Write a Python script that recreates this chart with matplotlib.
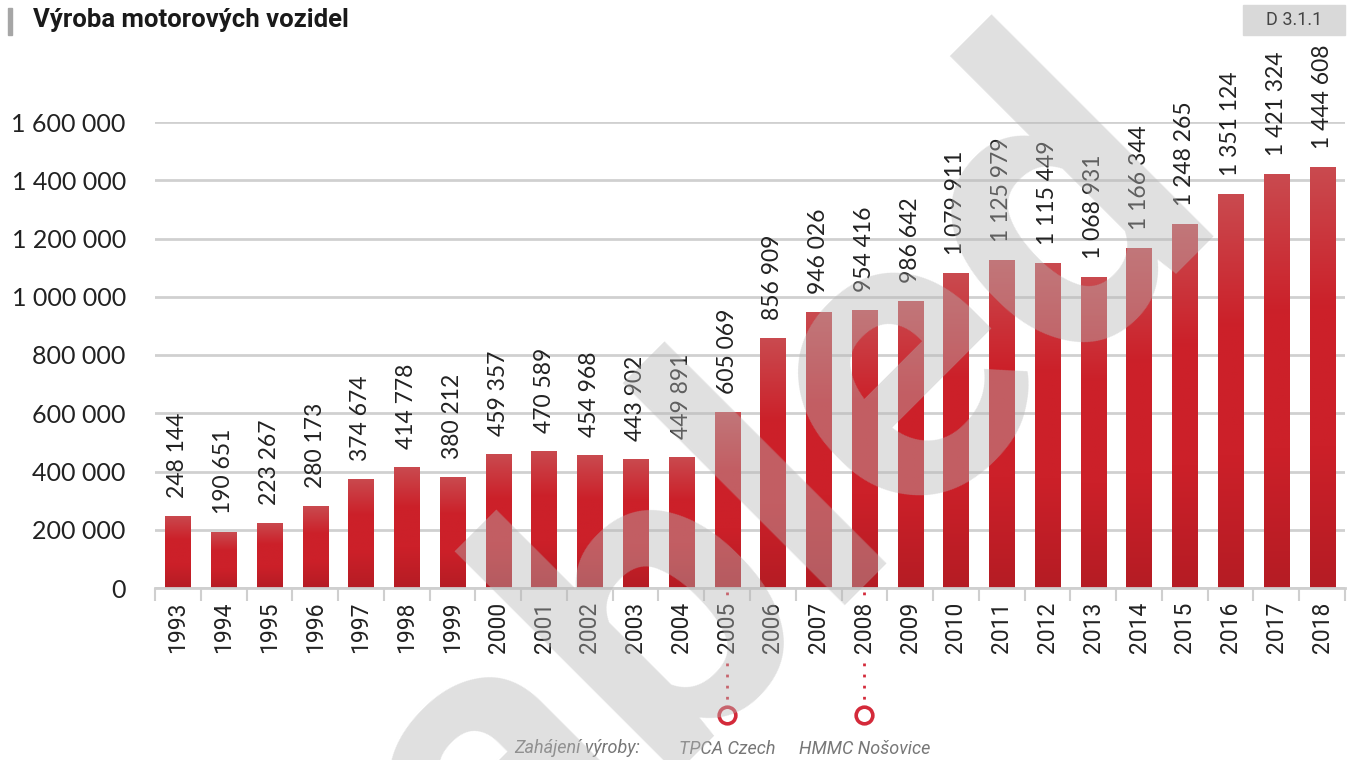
import numpy as np
import matplotlib
matplotlib.use('Agg')
import matplotlib.pyplot as plt
import matplotlib.transforms as mtransforms
from matplotlib.colors import LinearSegmentedColormap

# data
roky = [str(r) for r in range(1993, 2019)]
vyroba = [248144, 190651, 223267, 280173, 374674, 414778, 380212, 459357,
          470589, 454968, 443902, 449891, 605069, 856909, 946026, 954416,
          986642, 1079911, 1125979, 1115449, 1068931, 1166344, 1248265,
          1351124, 1421324, 1444608]
y_ticks = [0, 200000, 400000, 600000, 800000, 1000000, 1200000, 1400000, 1600000]
milniky = ['2005', '2008']
milniky_text = ['TPCA Czech', 'HMMC Nošovice']


def fmt(v):
    return '{:,}'.format(v).replace(',', ' ')


fig = plt.figure(figsize=(13.51, 7.6), dpi=100)
ax = fig.add_axes([155/1351, 1-588/760, 1190/1351, 466/760])

x = np.arange(len(roky))
sirka = 0.55
cmap = LinearSegmentedColormap.from_list('bar', ['#b51c24', '#cc2029', '#cc2029', '#c94a4f'])
grad = np.linspace(0, 1, 200).reshape(-1, 1)

bars = ax.bar(x, vyroba, width=sirka, color='none', zorder=2)
for b in bars:
    im = ax.imshow(grad, cmap=cmap, origin='lower', aspect='auto', zorder=2,
                   extent=[b.get_x(), b.get_x()+b.get_width(), 0, b.get_height()])
    im.set_clip_path(b)

for xi, v in zip(x, vyroba):
    ax.annotate(fmt(v), (xi, v), xytext=(0, 13), textcoords='offset points',
                rotation=90, ha='center', va='bottom', fontsize=16.5,
                family='Lato', color='#222222')

ax.set_xlim(-0.5, len(roky)-0.5)
ax.set_ylim(0, 1600000)
ax.set_yticks(y_ticks)
ax.set_yticklabels([fmt(v) for v in y_ticks], fontsize=18, family='Lato', color='#222222')
ax.tick_params(axis='y', length=0, pad=21)
ax.set_xticks(x)
ax.set_xticklabels(roky, rotation=90, fontsize=16.5, family='Roboto', color='#222222')
ax.set_xticks(np.arange(-0.5, len(roky), 1), minor=True)
ax.tick_params(axis='x', which='major', length=0, pad=10)
ax.tick_params(axis='x', which='minor', length=9, width=1.5, color='#cfcfcf')
ax.grid(axis='y', color='#d0d0d0', linewidth=2, zorder=0)
ax.set_axisbelow(True)
for s in ['top', 'right', 'left']:
    ax.spines[s].set_visible(False)
ax.spines['bottom'].set_color('#cfcfcf')
ax.spines['bottom'].set_linewidth(2)

# zahajeni vyroby
trans = mtransforms.blended_transform_factory(ax.transData, ax.transAxes)
for rok, txt in zip(milniky, milniky_text):
    i = roky.index(rok)
    ax.plot([i, i], [-0.008, -0.026], ls=(0, (1, 3)), lw=2, color='#d42a3a',
            transform=trans, clip_on=False)
    ax.plot([i, i], [-0.16, -0.255], ls=(0, (1, 3)), lw=2, color='#d42a3a',
            transform=trans, clip_on=False)
    ax.plot([i], [-0.2725], marker='o', ms=12, mew=2.6, mfc='white', mec='#d42a3a',
            transform=trans, clip_on=False)
    ax.text(i, -0.345, txt, transform=trans, ha='center', va='center',
            fontsize=13, style='italic', family='Roboto', color='#777777')
ax.text(640, 12, 'Zahájení výroby:', transform=None, ha='right', va='center',
        fontsize=13, style='italic', family='Roboto', color='#777777')

# nadpis
fig.text(33/1351, 1-20/760, 'Výroba motorových vozidel', fontsize=18.5, fontweight='bold',
         family='Roboto', color='#1a1a1a', va='center', ha='left')
fig.patches.append(plt.Rectangle((8/1351, 1-35/760), 4/1351, 27/760, color='#a6a6a6',
                                 transform=fig.transFigure, figure=fig))
fig.patches.append(plt.Rectangle((1243/1351, 1-35/760), 102/1351, 30/760, color='#d9d9d9',
                                 transform=fig.transFigure, figure=fig))
fig.text(1294/1351, 1-20/760, 'D 3.1.1', fontsize=13, family='Roboto', color='#444444',
         ha='center', va='center')

# vodoznak - poloha podle stredu pismene "e"
wm_kw = dict(fontsize=300, family='Roboto', fontweight='bold')
r = fig.canvas.get_renderer()
t1 = fig.text(0, 0, 'Disabl', **wm_kw)
t2 = fig.text(0, 0, 'e', **wm_kw)
w1 = t1.get_window_extent(r).width
w2 = t2.get_window_extent(r).width
t1.remove()
t2.remove()
smer = np.array([np.cos(np.radians(45)), -np.sin(np.radians(45))])
start = np.array([978.0, 446.0]) - (w1 + w2/2) * smer
fig.text(start[0]/1351, 1-start[1]/760, 'Disabled', rotation=45, rotation_mode='anchor',
         ha='left', va='baseline', color=(0.714, 0.714, 0.714), alpha=0.42, zorder=10,
         **wm_kw)

plt.savefig('out.png', dpi=100)
